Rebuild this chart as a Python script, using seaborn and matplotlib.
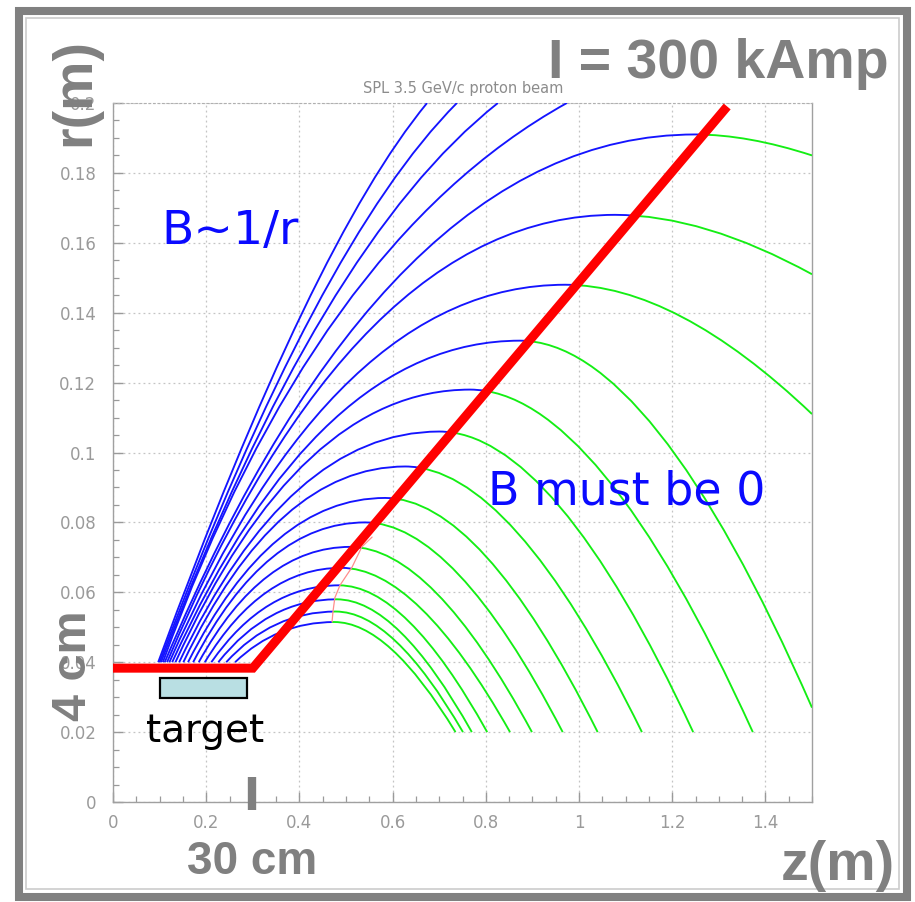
import numpy as np
import pandas as pd
import seaborn as sns
import matplotlib
matplotlib.use("Agg")
import matplotlib.pyplot as plt
from matplotlib.path import Path
from matplotlib.patches import PathPatch, Polygon, Rectangle
from matplotlib.ticker import MultipleLocator

# ---------------- data ----------------
# trajectories that leave through the top of the frame
escape_start_z = [0.097, 0.100, 0.103, 0.107]
escape_mid_z = [0.406, 0.429, 0.455, 0.487]
escape_mid_r = [0.140, 0.140, 0.140, 0.140]
escape_top_z = [0.674, 0.738, 0.826, 0.974]
escape_top_r = [0.200, 0.200, 0.200, 0.200]

# trajectories that turn over (start at r = 0.04, apex, end point)
arc_start_z = [0.111, 0.116, 0.121, 0.127, 0.134, 0.142, 0.151, 0.161,
               0.172, 0.184, 0.197, 0.211, 0.226, 0.243, 0.262]
arc_apex_z = [1.249, 1.077, 0.970, 0.873, 0.766, 0.700, 0.627, 0.584,
              0.541, 0.509, 0.490, 0.485, 0.480, 0.478, 0.475]
arc_apex_r = [0.191, 0.168, 0.148, 0.132, 0.118, 0.106, 0.096, 0.087,
              0.080, 0.073, 0.067, 0.062, 0.058, 0.0545, 0.0515]
arc_end_z = [1.500, 1.500, 1.500, 1.500, 1.373, 1.245, 1.135, 1.040,
             0.965, 0.899, 0.852, 0.803, 0.770, 0.751, 0.735]
arc_end_r = [0.185, 0.151, 0.111, 0.027, 0.020, 0.020, 0.020, 0.020,
             0.020, 0.020, 0.020, 0.020, 0.020, 0.020, 0.020]
start_r = 0.04

# horn conductor (thick red) and the thin pink field boundary
horn_z = [0.0, 0.30, 1.318]
horn_r = [0.0383, 0.0383, 0.199]
pink_z = [0.470, 0.472, 0.476, 0.487, 0.513, 0.534, 0.556]
pink_r = [0.0515, 0.0544, 0.0584, 0.0620, 0.0672, 0.0730, 0.0758]

# target block
target_z = [0.100, 0.287]
target_r = [0.0298, 0.0355]

x_ticks = [0, 0.2, 0.4, 0.6, 0.8, 1.0, 1.2, 1.4]
x_tick_labels = ["0", "0.2", "0.4", "0.6", "0.8", "1", "1.2", "1.4"]
y_ticks = [0, 0.02, 0.04, 0.06, 0.08, 0.10, 0.12, 0.14, 0.16, 0.18, 0.20]
y_tick_labels = ["0", "0.02", "0.04", "0.06", "0.08", "0.1", "0.12",
                 "0.14", "0.16", "0.18", "0.2"]

# ---------------- styling ----------------
sns.set_style("white")
plt.rcParams["font.family"] = ["DejaVu Sans"]

W, H = 915, 902
fig = plt.figure(figsize=(W / 100, H / 100), dpi=100)
fig.patch.set_facecolor("white")
ax = fig.add_axes([113 / W, 1 - 802 / H, (812 - 113) / W, (802 - 103) / H])
ax.set_xlim(0, 1.5)
ax.set_ylim(0, 0.2)

BLUE = "#1414ff"
GREEN = "#14ee14"
RED = "#ff0000"
GRAY = "#808080"
TICKGRAY = "#9a9a9a"

# clip regions: inside the horn (blue) and outside (green)
red_join_z = 0.58
red_join_r = horn_r[1] + (horn_r[2] - horn_r[1]) / (horn_z[2] - horn_z[1]) * (red_join_z - horn_z[1])
red_top_z = horn_z[1] + (0.2 - horn_r[1]) / ((horn_r[2] - horn_r[1]) / (horn_z[2] - horn_z[1]))
boundary = [(pink_z[0], 0.0)] + list(zip(pink_z, pink_r)) + [(red_join_z, red_join_r), (red_top_z, 0.2)]
blue_poly = [(0.0, 0.0)] + boundary + [(0.0, 0.2)]
green_poly = boundary[::-1] + [(pink_z[0], 0.0), (1.5, 0.0), (1.5, 0.2)]
green_poly = [(red_top_z, 0.2)] + boundary[::-1][1:] + [(1.5, 0.0), (1.5, 0.2)]


def add_curve(verts, codes, color, poly, z=3):
    patch = PathPatch(Path(verts, codes), facecolor="none", edgecolor=color,
                      lw=1.35, transform=ax.transData, zorder=z)
    clip = Polygon(poly, closed=True, transform=ax.transData, facecolor="none")
    patch.set_clip_path(clip)
    ax.add_patch(patch)


ASC = 0.42   # tangent control position on the rising branch
DESC = 0.45  # tangent control position on the falling branch

for z0, zm, rm, zt, rt in zip(escape_start_z, escape_mid_z, escape_mid_r,
                              escape_top_z, escape_top_r):
    p0 = np.array([z0, start_r])
    p2 = np.array([zt, rt])
    m = np.array([zm, rm])
    c = 2 * m - 0.5 * (p0 + p2)
    add_curve([tuple(p0), tuple(c), tuple(p2)],
              [Path.MOVETO, Path.CURVE3, Path.CURVE3], BLUE, blue_poly)

for z0, za, ra, ze, re in zip(arc_start_z, arc_apex_z, arc_apex_r, arc_end_z, arc_end_r):
    c1 = (z0 + ASC * (za - z0), ra)
    c2 = (za + DESC * (ze - za), ra)
    verts = [(z0, start_r), c1, (za, ra), c2, (ze, re)]
    codes = [Path.MOVETO, Path.CURVE3, Path.CURVE3, Path.CURVE3, Path.CURVE3]
    add_curve(verts, codes, BLUE, blue_poly)
    add_curve(verts, codes, GREEN, green_poly)

# thin pink boundary and thick red horn
sns.lineplot(x=pink_z, y=pink_r, sort=False, color="#ff8c8c", lw=0.9, ax=ax, zorder=4)
sns.lineplot(x=horn_z, y=horn_r, sort=False, color=RED, lw=6.5, ax=ax, zorder=6,
             solid_capstyle="butt", solid_joinstyle="miter")

# target
ax.add_patch(Rectangle((target_z[0], target_r[0]), target_z[1] - target_z[0],
                       target_r[1] - target_r[0], facecolor="#b9dfe3",
                       edgecolor="black", lw=1.6, zorder=5))

# gray marker at 30 cm
ax.plot([0.298, 0.298], [-0.0023, 0.0072], color=GRAY, lw=6, clip_on=False,
        solid_capstyle="butt", zorder=7)

# axes cosmetics
ax.set_xticks(x_ticks)
ax.set_xticklabels(x_tick_labels)
ax.set_yticks(y_ticks)
ax.set_yticklabels(y_tick_labels)
ax.xaxis.set_minor_locator(MultipleLocator(0.05))
ax.yaxis.set_minor_locator(MultipleLocator(0.005))
ax.tick_params(which="major", direction="in", length=7, width=1, color=TICKGRAY,
               labelcolor=TICKGRAY, labelsize=12)
ax.tick_params(axis="x", which="major", pad=9)
ax.tick_params(axis="y", which="major", pad=12)
ax.tick_params(which="minor", direction="in", length=4, width=0.9, color=TICKGRAY)
ax.tick_params(which="both", left=True, bottom=True, top=False, right=False)
ax.grid(True, which="major", linestyle=(0, (1.5, 2.5)), color="#c4c4c4", lw=0.9)
for side in ["left", "bottom", "right"]:
    ax.spines[side].set_color("#a0a0a0")
    ax.spines[side].set_linewidth(1.0)
ax.spines["top"].set_color("#b0b0b0")
ax.spines["top"].set_linestyle((0, (1.5, 2.5)))
ax.set_xlabel("")
ax.set_ylabel("")

# title
fig.text(463 / W, 1 - 88 / H, "SPL 3.5 GeV/c proton beam", ha="center", va="center",
         fontsize=10.5, color="#8c8c8c")

# big annotations
big = dict(family="Liberation Sans", fontweight="bold", color=GRAY)
fig.text(718 / W, 1 - 64 / H, "I = 300 kAmp", ha="center", va="center", fontsize=40, **big)
fig.text(75 / W, 1 - 92 / H, "r(m)", rotation=90, ha="center", va="center", fontsize=40, **big)
fig.text(73 / W, 1 - 666 / H, "4 cm", rotation=90, ha="center", va="center", fontsize=35, **big)
fig.text(252 / W, 1 - 862 / H, "30 cm", ha="center", va="center", fontsize=33, **big)
fig.text(838 / W, 1 - 866 / H, "z(m)", ha="center", va="center", fontsize=40, **big)

fig.text(230 / W, 1 - 232 / H, "B~1/r", ha="center", va="center", fontsize=34, color="#0a0aff")
fig.text(627 / W, 1 - 492 / H, "B must be 0", ha="center", va="center", fontsize=33, color="#0a0aff")
fig.text(205 / W, 1 - 731 / H, "target", ha="center", va="center", fontsize=28, color="black")

# outer frame
fig.patches.append(Rectangle((19 / W, 1 - 897 / H), (907 - 19) / W, (897 - 11) / H,
                             transform=fig.transFigure, facecolor="none",
                             edgecolor=GRAY, lw=5.8, zorder=0))
fig.patches.append(Rectangle((26 / W, 1 - 889 / H), (899 - 26) / W, (889 - 18) / H,
                             transform=fig.transFigure, facecolor="none",
                             edgecolor="#cccccc", lw=1.2, zorder=0))

fig.savefig("out.png", dpi=100, facecolor="white")
